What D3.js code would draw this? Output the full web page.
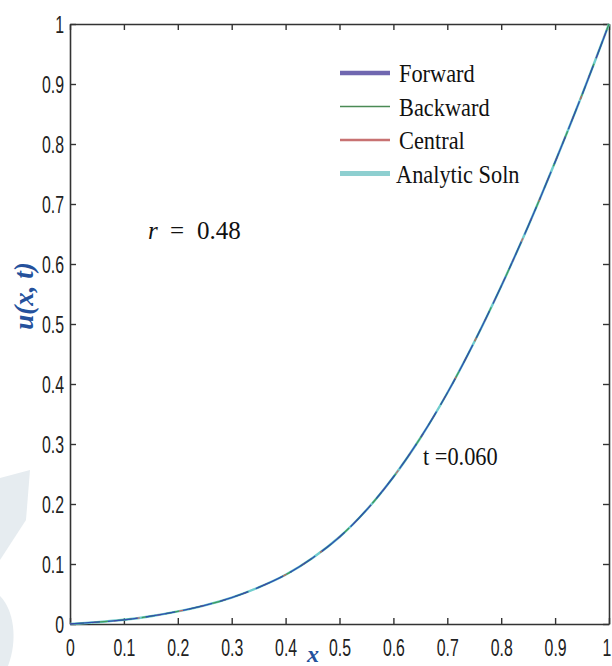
<!DOCTYPE html>
<html>
<head>
<meta charset="utf-8">
<script src="https://cdn.jsdelivr.net/npm/d3@7"></script>
<style>
  body { margin: 0; background: #fff; }
  svg { display: block; }
</style>
</head>
<body>
<div class="container"></div>
<script>
// values, u(x, t) at t = 0.060
const xs       = [0, 0.05, 0.1, 0.15, 0.2, 0.25, 0.3, 0.35, 0.4, 0.45, 0.5, 0.55, 0.6, 0.65, 0.7, 0.75, 0.8, 0.85, 0.9, 0.95, 1]
const forward  = [0, 0.003, 0.007, 0.013, 0.021, 0.031, 0.044, 0.061, 0.082, 0.110, 0.145, 0.190, 0.245, 0.310, 0.385, 0.470, 0.563, 0.663, 0.770, 0.882, 1]
const backward = [0, 0.003, 0.007, 0.013, 0.021, 0.031, 0.044, 0.061, 0.082, 0.110, 0.145, 0.190, 0.245, 0.310, 0.385, 0.470, 0.563, 0.663, 0.770, 0.882, 1]
const central  = [0, 0.003, 0.007, 0.013, 0.021, 0.031, 0.044, 0.061, 0.082, 0.110, 0.145, 0.190, 0.245, 0.310, 0.385, 0.470, 0.563, 0.663, 0.770, 0.882, 1]
const analytic = [0, 0.003, 0.007, 0.013, 0.021, 0.031, 0.044, 0.061, 0.082, 0.110, 0.145, 0.190, 0.245, 0.310, 0.385, 0.470, 0.563, 0.663, 0.770, 0.882, 1]

const legendNames = ["Forward", "Backward", "Central", "Analytic Soln"]
const xTicks = [0, 0.1, 0.2, 0.3, 0.4, 0.5, 0.6, 0.7, 0.8, 0.9, 1]
const yTicks = [0, 0.1, 0.2, 0.3, 0.4, 0.5, 0.6, 0.7, 0.8, 0.9, 1]

const svg = d3.select(".container")
              .append("svg")
              .attr("width", 612)
              .attr("height", 666)

// faint watermark at the left edge
svg.append("path")
   .attr("d", "M0,478 L30,470 L26,520 L0,560 Z")
   .attr("fill", "#e6ecf0")
svg.append("path")
   .attr("d", "M0,596 C14,610 18,640 8,666 L0,666 Z")
   .attr("fill", "#e6ecf0")

const plotLeft = 70, plotRight = 609, plotTop = 24, plotBottom = 624

const x = d3.scaleLinear().domain([0, 1]).range([plotLeft, plotRight])
const y = d3.scaleLinear().domain([0, 1]).range([plotBottom, plotTop])

const fmt = (d)=>{
    if(d === 0 || d === 1){
        return String(d)
    }
    return d.toFixed(1)
}

const styleAxis = (g)=>{
    g.select(".domain").attr("stroke", "#333").attr("stroke-width", 1.6)
    g.selectAll(".tick line").attr("stroke", "#333").attr("stroke-width", 1.4)
    g.selectAll(".tick text")
     .attr("fill", "#222")
     .style("font-family", "'Liberation Sans', Arial, sans-serif")
     .style("font-size", "24px")
}

// bottom and left with labels, top and right only ticks
const gx = svg.append("g")
   .attr("transform", `translate(0,${plotBottom})`)
   .call(d3.axisBottom(x).tickValues(xTicks).tickFormat(fmt).tickSizeInner(-6).tickSizeOuter(0).tickPadding(15))
styleAxis(gx)
gx.selectAll(".tick text")
  .attr("transform", "scale(0.66,1)")
  .attr("x", (d)=> d === 1 ? -4 : 0)

const gy = svg.append("g")
   .attr("transform", `translate(${plotLeft},0)`)
   .call(d3.axisLeft(y).tickValues(yTicks).tickFormat(fmt).tickSizeInner(-6).tickSizeOuter(0).tickPadding(9))
styleAxis(gy)
gy.selectAll(".tick text").attr("dy", "0.36em").attr("transform", "scale(0.66,1)")

const gt = svg.append("g")
   .attr("transform", `translate(0,${plotTop})`)
   .call(d3.axisTop(x).tickValues(xTicks).tickFormat("").tickSizeInner(-6).tickSizeOuter(0))
styleAxis(gt)

const gr = svg.append("g")
   .attr("transform", `translate(${plotRight},0)`)
   .call(d3.axisRight(y).tickValues(yTicks).tickFormat("").tickSizeInner(-6).tickSizeOuter(0))
styleAxis(gr)

// curves
const line = d3.line()
               .x((d)=> x(d[0]))
               .y((d)=> y(d[1]))
               .curve(d3.curveCatmullRom)

const series = [
    {vals: analytic, color: "#6fcdcd", width: 2.4, dash: null},
    {vals: backward, color: "#3f9a5a", width: 1.3, dash: "14 10"},
    {vals: central,  color: "#c86464", width: 1.2, dash: "4 18"},
    {vals: forward,  color: "#2f4fb0", width: 1.3, dash: "30 8"}
]

series.forEach((s)=>{
    svg.append("path")
       .datum(xs.map((v, i)=> [v, s.vals[i]]))
       .attr("d", line)
       .attr("fill", "none")
       .attr("stroke", s.color)
       .attr("stroke-width", s.width)
       .attr("stroke-dasharray", s.dash)
})

// legend
const legendColors = ["#7067b0", "#4a8a55", "#c87272", "#8ecfd0"]
const legendWidths = [4.5, 1.6, 2.4, 5]
const legend = svg.append("g")
legendNames.forEach((name, i)=>{
    let ly = 73 + i * 33.5
    legend.append("line")
          .attr("x1", 340).attr("x2", 390)
          .attr("y1", ly).attr("y2", ly)
          .attr("stroke", legendColors[i])
          .attr("stroke-width", legendWidths[i])
    legend.append("text")
          .attr("transform", `translate(${i === 3 ? 396 : 399},${ly + 9}) scale(0.86,1)`)
          .style("font-family", "'Liberation Serif', 'Times New Roman', serif")
          .style("font-size", "26px")
          .attr("fill", "#111")
          .text(name)
})

// annotations
const rText = svg.append("text")
   .attr("y", 239)
   .style("font-family", "'Liberation Serif', 'Times New Roman', serif")
   .style("font-size", "25px")
   .attr("fill", "#111")
rText.append("tspan").attr("x", 148).style("font-style", "italic").text("r")
rText.append("tspan").attr("x", 170).text("=")
rText.append("tspan").attr("x", 197).text("0.48")

svg.append("text")
   .attr("transform", "translate(423,465) scale(0.86,1)")
   .style("font-family", "'Liberation Serif', 'Times New Roman', serif")
   .style("font-size", "26px")
   .attr("fill", "#111")
   .text("t =0.060")

// axis titles
svg.append("text")
   .attr("transform", "translate(33,296) rotate(-90)")
   .attr("text-anchor", "middle")
   .style("font-family", "'Liberation Serif', 'Times New Roman', serif")
   .style("font-size", "27px")
   .style("font-style", "italic")
   .style("font-weight", "bold")
   .attr("fill", "#24519c")
   .text("u(x, t)")

svg.append("text")
   .attr("x", 313)
   .attr("y", 662)
   .attr("text-anchor", "middle")
   .style("font-family", "'Liberation Serif', 'Times New Roman', serif")
   .style("font-size", "24px")
   .style("font-style", "italic")
   .style("font-weight", "bold")
   .attr("fill", "#24519c")
   .text("x")
</script>
</body>
</html>
